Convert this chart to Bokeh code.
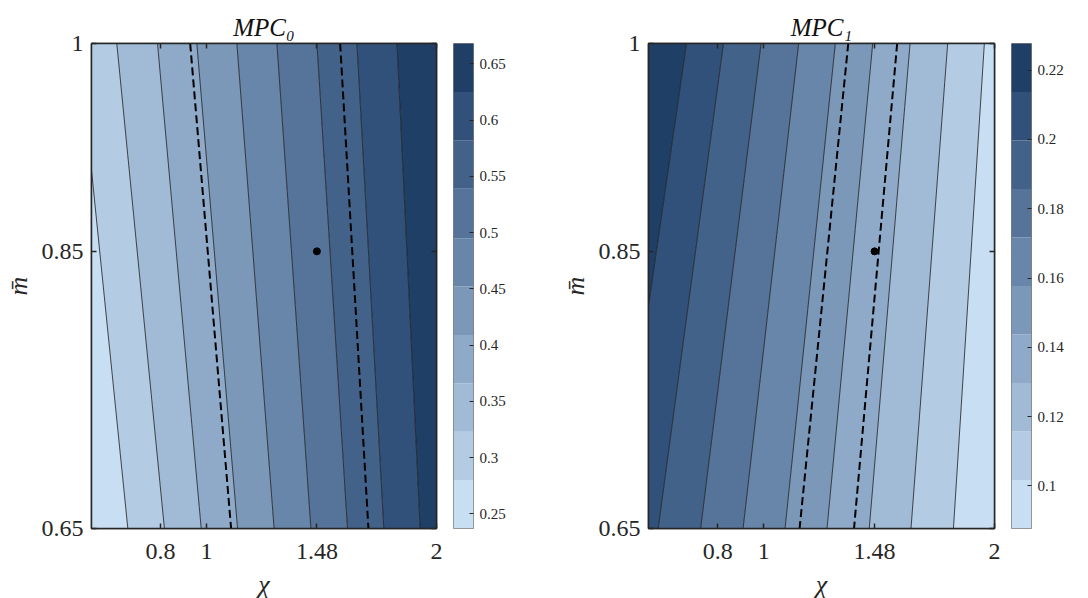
from bokeh.plotting import figure
from bokeh.models import Range1d, LinearAxis, FixedTicker, NumeralTickFormatter, Title
from bokeh.layouts import row
from bokeh.embed import file_html
from bokeh.resources import INLINE

# ---------------- data ----------------
chi_range = [0.5, 2.0]
mbar_range = [0.65, 1.0]
chi_ticks = [0.8, 1, 1.48, 2]
mbar_ticks = [0.65, 0.85, 1]
point_chi = [1.48]
point_mbar = [0.85]

# blue palette, lowest band -> highest band
palette = ["#c7def3", "#b3cce4", "#a1bbd6", "#8eaac8", "#7b98b9",
           "#6886a9", "#56749a", "#43628a", "#32517a", "#1f3f67"]

# MPC_0 (increases with chi)
mpc0_levels = [0.237, 0.280, 0.323, 0.366, 0.409, 0.452, 0.495, 0.539, 0.582, 0.625, 0.668]
mpc0_line_chi_top = [0.444, 0.610, 0.787, 0.958, 1.132, 1.306, 1.480, 1.654, 1.828]     # at m=1
mpc0_line_chi_bottom = [0.658, 0.817, 0.977, 1.135, 1.294, 1.454, 1.613, 1.771, 1.929]  # at m=0.65
mpc0_dash_top = [0.929, 1.581]
mpc0_dash_bottom = [1.107, 1.704]
mpc0_cbar_ticks = [0.25, 0.3, 0.35, 0.4, 0.45, 0.5, 0.55, 0.6, 0.65]

# MPC_1 (decreases with chi)
mpc1_levels = [0.0877, 0.1017, 0.1157, 0.1297, 0.1437, 0.1577, 0.1717, 0.1857, 0.1997, 0.2137, 0.2277]
mpc1_line_chi_top = [1.956, 1.797, 1.634, 1.472, 1.310, 1.151, 0.988, 0.825, 0.665]
mpc1_line_chi_bottom = [1.822, 1.638, 1.457, 1.274, 1.092, 0.910, 0.726, 0.542, 0.360]
mpc1_dash_top = [1.366, 1.578]
mpc1_dash_bottom = [1.155, 1.391]
mpc1_cbar_ticks = [0.1, 0.12, 0.14, 0.16, 0.18, 0.2, 0.22]

titles = ["MPC\u2080", "MPC\u2081"]

SERIF = "Liberation Serif"
DARK = "#262626"
FRAME_H = 485
BT, BB = 43, 62


def main_panel(levels, top, bottom, increasing, dtop, dbot, title, fw, bl):
    p = figure(frame_width=fw, frame_height=FRAME_H, min_border_left=bl, min_border_right=17,
               min_border_top=BT, min_border_bottom=BB,
               x_range=Range1d(*chi_range), y_range=Range1d(*mbar_range),
               output_backend="svg", toolbar_location=None, tools="")
    far_lo, far_hi = chi_range[0] - 1.0, chi_range[1] + 1.0
    if increasing:
        bt = [far_lo] + top + [far_hi]
        bb = [far_lo] + bottom + [far_hi]
    else:
        bt = [far_hi] + top + [far_lo]
        bb = [far_hi] + bottom + [far_lo]
    xs, ys = [], []
    for k in range(len(levels) - 1):
        xs.append([bt[k], bt[k + 1], bb[k + 1], bb[k]])
        ys.append([mbar_range[1], mbar_range[1], mbar_range[0], mbar_range[0]])
    p.patches(xs, ys, fill_color=palette, line_color=None)
    p.segment(x0=top, y0=[mbar_range[1]] * len(top), x1=bottom, y1=[mbar_range[0]] * len(bottom),
              line_color="#1a1a1a", line_width=0.8)
    p.segment(x0=dtop, y0=[mbar_range[1]] * len(dtop), x1=dbot, y1=[mbar_range[0]] * len(dbot),
              line_color="black", line_width=2, line_dash="8 4")
    p.scatter(point_chi, point_mbar, size=7, color="black")

    p.grid.visible = False
    p.outline_line_color = DARK
    p.outline_line_width = 1.5

    p.title = Title(text=title, align="center", text_font=SERIF, text_font_style="italic",
                    text_font_size="25px", text_color="#111111", standoff=6)

    p.add_layout(LinearAxis(), "above")
    p.add_layout(LinearAxis(), "right")
    for ax in p.xaxis:
        ax.ticker = FixedTicker(ticks=chi_ticks)
    for ax in p.yaxis:
        ax.ticker = FixedTicker(ticks=mbar_ticks)
    for ax in p.xaxis + p.yaxis:
        ax.formatter = NumeralTickFormatter(format="0.[00]")
        ax.major_tick_in = 5
        ax.major_tick_out = 0
        ax.minor_tick_line_color = None
        ax.axis_line_color = DARK
        ax.axis_line_width = 1.5
        ax.major_tick_line_color = DARK
        ax.major_tick_line_width = 1.5
        ax.major_label_text_font = SERIF
        ax.major_label_text_font_size = "24px"
        ax.major_label_text_color = DARK
        ax.axis_label_text_font = SERIF
        ax.axis_label_text_font_style = "italic"
        ax.axis_label_text_font_size = "26px"
        ax.axis_label_text_color = DARK
    for ax in (p.above[-1], p.right[0]):
        ax.major_label_text_font_size = "0px"
        ax.major_label_text_color = None
        ax.major_label_standoff = 0
    p.below[0].axis_label = "χ"
    p.below[0].major_label_standoff = 15
    p.below[0].axis_label_standoff = 8
    p.left[0].axis_label = "m̄"
    p.left[0].major_label_standoff = 8
    p.left[0].axis_label_standoff = 6
    return p


def cbar_panel(levels, ticks, br):
    c = figure(frame_width=20, frame_height=FRAME_H, min_border_left=0, min_border_right=br,
               min_border_top=BT, min_border_bottom=BB,
               x_range=Range1d(0, 1), y_range=Range1d(levels[0], levels[-1]),
               x_axis_location=None, y_axis_location="right",
               output_backend="svg", toolbar_location=None, tools="")
    c.quad(left=0, right=1, bottom=levels[:-1], top=levels[1:], fill_color=palette, line_color=None)
    c.grid.visible = False
    c.outline_line_color = "#7f7f7f"
    c.outline_line_width = 1
    ax = c.yaxis[0]
    ax.ticker = FixedTicker(ticks=ticks)
    ax.formatter = NumeralTickFormatter(format="0.[00]")
    ax.major_tick_in = 4
    ax.major_tick_out = 0
    ax.minor_tick_line_color = None
    ax.axis_line_color = None
    ax.major_tick_line_color = DARK
    ax.major_label_standoff = 6
    ax.major_label_text_font = SERIF
    ax.major_label_text_font_size = "15px"
    ax.major_label_text_color = DARK
    return c


p0 = main_panel(mpc0_levels, mpc0_line_chi_top, mpc0_line_chi_bottom, True,
                mpc0_dash_top, mpc0_dash_bottom, titles[0], 345, 83)
c0 = cbar_panel(mpc0_levels, mpc0_cbar_ticks, 40)
p1 = main_panel(mpc1_levels, mpc1_line_chi_top, mpc1_line_chi_bottom, False,
                mpc1_dash_top, mpc1_dash_bottom, titles[1], 346, 135)
c1 = cbar_panel(mpc1_levels, mpc1_cbar_ticks, 45)

layout = row(p0, c0, p1, c1)
open("out.html", "w").write(file_html(layout, INLINE))
